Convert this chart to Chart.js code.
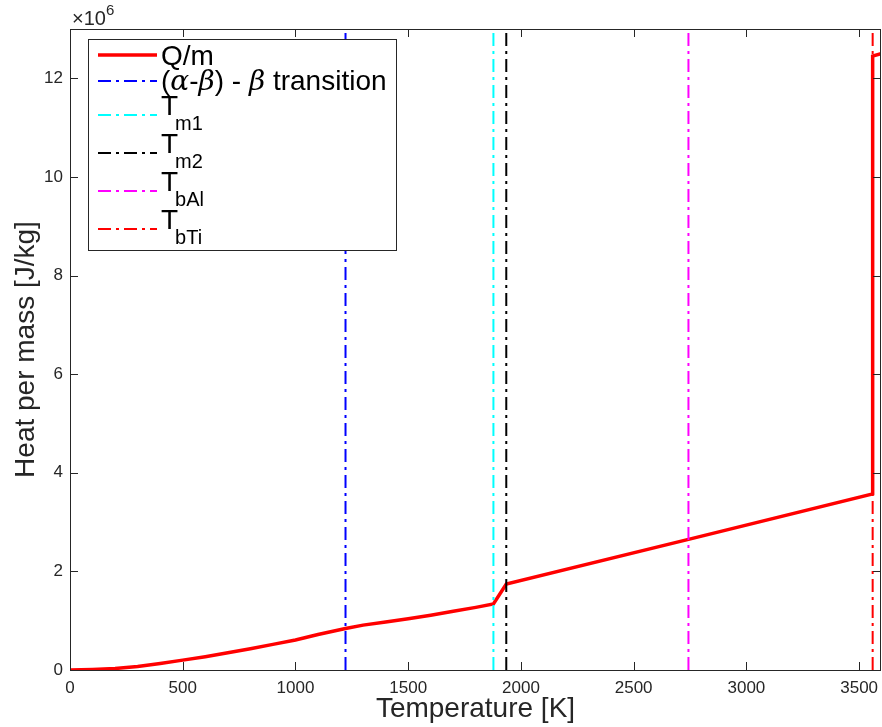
<!DOCTYPE html>
<html>
<head>
<meta charset="utf-8">
<script src="https://cdn.jsdelivr.net/npm/chart.js@4/dist/chart.umd.min.js"></script>
<style>
  body { margin: 0; background: #fff; }
  canvas { display: block; }
</style>
</head>
<body>
<canvas id="chart" width="882" height="727"></canvas>
<script>
// Q/m curve
const tempK = [0, 100, 200, 300, 400, 500, 600, 700, 800, 900, 1000, 1100, 1222,
  1300, 1400, 1500, 1600, 1700, 1800, 1878, 1935, 2743, 3560, 3560, 3597];
const heatPerMass = [0, 10000, 30000, 70000, 130000, 200000, 270000, 350000, 430000,
  520000, 610000, 720000, 840000, 910000, 975000, 1040000, 1110000, 1190000, 1270000,
  1340000, 1744000, 2650000, 3570000, 12450000, 12500000];

// transition temperatures (vertical dash-dot lines)
const markerTemps = [1222, 1878, 1935, 2743, 3560];
const markerColors = ['#0000ff', '#00ffff', '#000000', '#ff00ff', '#ff0000'];

const legendText = ['Q/m', '(α-β) - β transition', 'T', 'T', 'T', 'T'];
const legendSub = ['', '', 'm1', 'm2', 'bAl', 'bTi'];

const xTickValues = [0, 500, 1000, 1500, 2000, 2500, 3000, 3500];
const yTickValues = [0, 2e6, 4e6, 6e6, 8e6, 10e6, 12e6];

const xMax = 3597;
const yMax = 13e6;
const FONT = '"Liberation Sans", Arial, Helvetica, sans-serif';
const AXIS = '#262626';
const DASH = [13, 5, 3, 5];

// box, inward ticks, exponent label and the TeX-style legend
const matlabAxes = {
  id: 'matlabAxes',
  afterDatasetsDraw(chart) {
    const {ctx, chartArea: a, scales: {x, y}} = chart;
    ctx.save();
    ctx.strokeStyle = AXIS;
    ctx.lineWidth = 1;
    ctx.beginPath();
    x.ticks.forEach(t => {
      const px = Math.round(x.getPixelForValue(t.value)) + 0.5;
      ctx.moveTo(px, a.bottom); ctx.lineTo(px, a.bottom - 8);
      ctx.moveTo(px, a.top); ctx.lineTo(px, a.top + 8);
    });
    y.ticks.forEach(t => {
      const py = Math.round(y.getPixelForValue(t.value)) + 0.5;
      ctx.moveTo(a.left, py); ctx.lineTo(a.left + 8, py);
      ctx.moveTo(a.right, py); ctx.lineTo(a.right - 8, py);
    });
    ctx.stroke();
    ctx.strokeRect(Math.round(a.left) + 0.5, Math.round(a.top) + 0.5,
      Math.round(a.right - a.left) - 1, Math.round(a.bottom - a.top));

    // x10^6
    ctx.fillStyle = AXIS;
    ctx.textBaseline = 'alphabetic';
    ctx.font = '20px ' + FONT;
    ctx.fillText('\u00d710', 72, 25);
    const w = ctx.measureText('\u00d710').width;
    ctx.font = '15px ' + FONT;
    ctx.fillText('6', 72 + w, 15);

    // legend
    const box = {l: 88, t: 39, r: 396, b: 250};
    ctx.fillStyle = '#fff';
    ctx.fillRect(box.l, box.t, box.r - box.l, box.b - box.t);
    ctx.strokeStyle = AXIS;
    ctx.strokeRect(box.l + 0.5, box.t + 0.5, box.r - box.l, box.b - box.t);

    const rowY = [55, 81, 115, 153, 191, 229];
    const baseY = [65, 90, 115, 153, 191, 229];
    chart.data.datasets.forEach((ds, i) => {
      ctx.strokeStyle = ds.borderColor;
      ctx.lineWidth = ds.borderWidth;
      ctx.setLineDash(ds.borderDash || []);
      ctx.beginPath();
      ctx.moveTo(98, rowY[i]); ctx.lineTo(157, rowY[i]);
      ctx.stroke();
      ctx.setLineDash([]);

      ctx.fillStyle = '#000';
      let tx = 161;
      for (const ch of legendText[i]) {
        const greek = 'αβ'.includes(ch);
        ctx.font = greek ? 'italic 28px "DejaVu Serif", serif' : '28px ' + FONT;
        ctx.fillText(ch, tx, baseY[i]);
        tx += ctx.measureText(ch).width;
      }
      if (legendSub[i]) {
        ctx.font = '20px ' + FONT;
        ctx.fillText(legendSub[i], tx - 3, baseY[i] + 15);
      }
    });
    ctx.restore();
  }
};

const datasets = [{
  label: 'Q/m',
  data: tempK.map((t, i) => ({x: t, y: heatPerMass[i]})),
  borderColor: '#ff0000',
  borderWidth: 3.5,
  pointRadius: 0,
  order: 1
}].concat(markerTemps.map((t, i) => ({
  label: legendText[i + 1] + legendSub[i + 1],
  data: [{x: t, y: 0}, {x: t, y: yMax}],
  borderColor: markerColors[i],
  borderWidth: 2,
  borderDash: DASH,
  pointRadius: 0,
  order: 0
})));

new Chart(document.getElementById('chart'), {
  type: 'line',
  data: {datasets},
  options: {
    responsive: false,
    animation: false,
    layout: {padding: {top: 29, right: 1}},
    plugins: {
      legend: {display: false},
      tooltip: {enabled: false}
    },
    scales: {
      x: {
        type: 'linear',
        min: 0,
        max: xMax,
        afterBuildTicks: (s) => { s.ticks = xTickValues.map(v => ({value: v})); },
        afterFit: (s) => { s.height = 57; s.paddingLeft = 0; s.paddingRight = 0; },
        grid: {display: false, drawTicks: false},
        border: {display: false},
        ticks: {
          autoSkip: false,
          maxRotation: 0,
          padding: 8,
          color: AXIS,
          font: {family: FONT, size: 17},
          callback: (v) => String(v)
        },
        title: {
          display: true,
          text: 'Temperature [K]',
          color: AXIS,
          font: {family: FONT, size: 28, lineHeight: 1},
          padding: {top: 0, bottom: 4}
        }
      },
      y: {
        min: 0,
        max: yMax,
        afterBuildTicks: (s) => { s.ticks = yTickValues.map(v => ({value: v})); },
        afterFit: (s) => { s.width = 70; s.paddingTop = 0; s.paddingBottom = 0; },
        grid: {display: false, drawTicks: false},
        border: {display: false},
        ticks: {
          autoSkip: false,
          padding: 7,
          color: AXIS,
          font: {family: FONT, size: 17},
          callback: (v) => String(v / 1e6)
        },
        title: {
          display: true,
          text: 'Heat per mass [J/kg]',
          color: AXIS,
          font: {family: FONT, size: 28, lineHeight: 1},
          padding: {top: 12, bottom: 0}
        }
      }
    }
  },
  plugins: [matlabAxes]
});
</script>
</body>
</html>
